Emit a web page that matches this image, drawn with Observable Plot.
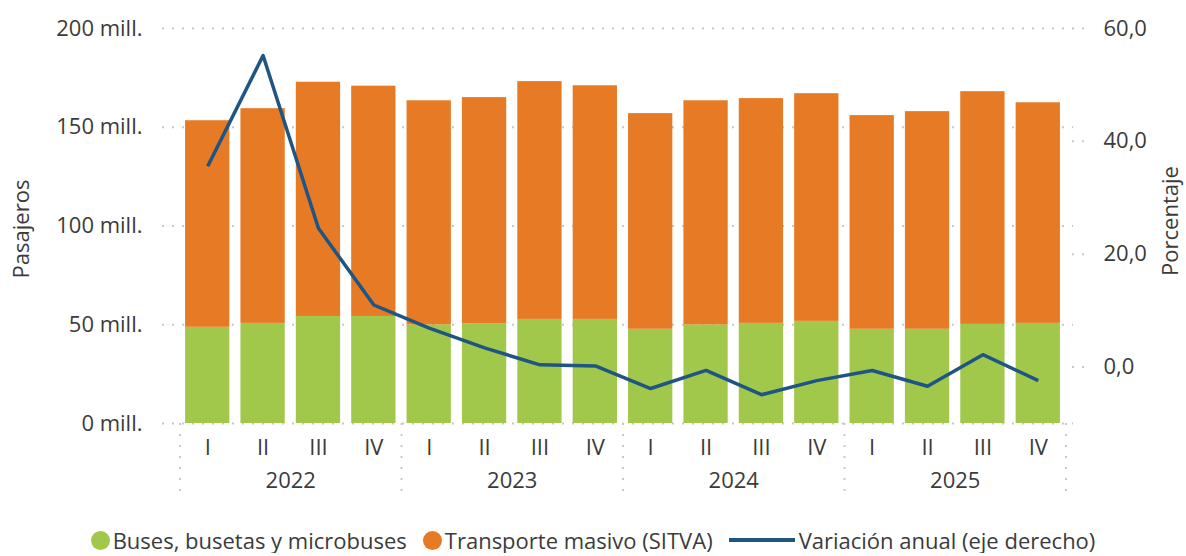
<!DOCTYPE html>
<html>
<head>
<meta charset="utf-8">
<script src="https://cdn.jsdelivr.net/npm/d3@7"></script>
<script src="https://cdn.jsdelivr.net/npm/@observablehq/plot@0.6"></script>
<style>
  html, body { margin: 0; padding: 0; background: #fff; }
  #chart { width: 1186px; }
  .legend { display: flex; justify-content: center; align-items: center; margin-top: 17px;
    font-family: "Open Sans", sans-serif; font-size: 22px; color: #3b3b3b; line-height: 26px; white-space: nowrap; }
  .legend .item { display: flex; align-items: center; margin-right: 16px; }
  .legend .item:last-child { margin-right: 0; }
  .legend .dot { width: 19px; height: 19px; border-radius: 50%; margin-right: 3px; }
  .legend .ln { width: 66px; height: 3.5px; margin-right: 4px; }
</style>
</head>
<body>
<div id="chart"></div>
<script>
const years = ["2022", "2023", "2024", "2025"];
const quarters = ["I", "II", "III", "IV"];
const seriesNames = ["Buses, busetas y microbuses", "Transporte masivo (SITVA)"];
const lineName = "Variación anual (eje derecho)";
// millones de pasajeros
const buses = [48.7, 50.7, 54.2, 54.2, 49.9, 50.4, 52.7, 52.7, 47.7, 49.9, 50.7, 51.7, 47.7, 47.7, 50.2, 50.7];
const masivo = [104.6, 108.7, 118.6, 116.6, 113.5, 114.6, 120.4, 118.3, 109.2, 113.5, 113.8, 115.3, 108.2, 110.2, 117.8, 111.7];
// variación anual (%)
const variacion = [35.6, 55.2, 24.6, 11.0, 6.9, 3.4, 0.4, 0.2, -3.8, -0.6, -4.9, -2.4, -0.6, -3.4, 2.2, -2.4];
const leftTicks = [0, 50, 100, 150, 200];
const rightTicks = [0, 20, 40, 60];
const leftDomain = [0, 200];
const rightDomain = [-10, 60];

const colors = ["#a2c84b", "#e67a25"];
const lineColor = "#1f5582";
const textColor = "#3b3b3b";

const W = 1186, H = 510, mL = 174, mR = 115, mT = 28, mB = 87;

const keys = years.flatMap(y => quarters.map(q => y + "-" + q));
const barsData = keys.flatMap((k, i) => [
  {key: k, serie: seriesNames[0], value: buses[i]},
  {key: k, serie: seriesNames[1], value: masivo[i]}
]);
const toLeft = v => leftDomain[0] + (v - rightDomain[0]) * (leftDomain[1] - leftDomain[0]) / (rightDomain[1] - rightDomain[0]);
const fromLeft = v => rightDomain[0] + (v - leftDomain[0]) * (rightDomain[1] - rightDomain[0]) / (leftDomain[1] - leftDomain[0]);
const lineData = keys.map((k, i) => ({key: k, v: variacion[i]}));

const xs = Plot.scale({x: {type: "band", domain: keys, range: [mL, W - mR], padding: 0.2, round: false}});
const half = xs.step / 2;

const yearCenters = years.map(y => ({year: y, key: y + "-II"}));
const sepData = years.map(y => ({key: y + "-I", off: -half})).concat([{key: keys[keys.length - 1], off: half}]);

const fmtR = v => v.toFixed(1).replace(".", ",");

const chart = Plot.plot({
  width: W, height: H,
  marginLeft: mL, marginRight: mR, marginTop: mT, marginBottom: mB,
  x: {type: "band", domain: keys, padding: 0.2, round: false, axis: null, label: null},
  y: {domain: leftDomain, axis: null, label: null},
  color: {domain: seriesNames, range: colors},
  style: {fontFamily: "'Open Sans', sans-serif", fontSize: "22px", color: textColor, overflow: "visible", background: "#fff"},
  marks: [
    Plot.ruleY(leftTicks, {y: d => d, stroke: "#c8c8c8", strokeWidth: 2, strokeDasharray: "2,8", insetLeft: -12, insetRight: -2}),
    Plot.barY(barsData, {x: "key", y: "value", fill: "serie", order: seriesNames}),
    Plot.line(lineData, {x: "key", y: d => toLeft(d.v), stroke: lineColor, strokeWidth: 3.5, strokeLinejoin: "round", strokeLinecap: "butt"}),
    Plot.axisX({tickSize: 0, tickPadding: 16, fontSize: 22, tickFormat: k => k.split("-")[1], fill: textColor, label: null}),
    Plot.text(yearCenters, {x: "key", y: () => 0, text: "year", dx: half, dy: 57, fontSize: 22, fill: textColor}),
    ...sepData.map(s => Plot.ruleX([s], {x: "key", y1: () => 0, y2: () => 0, dx: s.off, insetBottom: -77, stroke: "#c8c8c8", strokeWidth: 2, strokeDasharray: "2,9"})),
    Plot.axisY(leftTicks, {anchor: "left", tickSize: 0, tickPadding: 32, fontSize: 22, tickFormat: d => `${d} mill.`, fill: textColor, label: null}),
    Plot.axisY(rightTicks.map(toLeft), {anchor: "right", tickSize: 14, tickPadding: 18, fontSize: 22, tickFormat: d => fmtR(fromLeft(d)), stroke: "#c8c8c8", strokeWidth: 2, strokeDasharray: "2,8", fill: textColor, label: null}),
    Plot.text(["Pasajeros"], {frameAnchor: "left", textAnchor: "middle", dx: -153, dy: 3, rotate: -90, fontSize: 22, fill: textColor}),
    Plot.text(["Porcentaje"], {frameAnchor: "right", textAnchor: "middle", dx: 99, dy: -5, rotate: -90, fontSize: 22, fill: textColor})
  ]
});
document.getElementById("chart").appendChild(chart);

const legend = document.createElement("div");
legend.className = "legend";
seriesNames.forEach((n, i) => {
  const it = document.createElement("span");
  it.className = "item";
  it.innerHTML = `<span class="dot" style="background:${colors[i]}"></span><span>${n}</span>`;
  legend.appendChild(it);
});
const itl = document.createElement("span");
itl.className = "item";
itl.innerHTML = `<span class="ln" style="background:${lineColor}"></span><span>${lineName}</span>`;
legend.appendChild(itl);
document.getElementById("chart").appendChild(legend);
</script>
</body>
</html>
